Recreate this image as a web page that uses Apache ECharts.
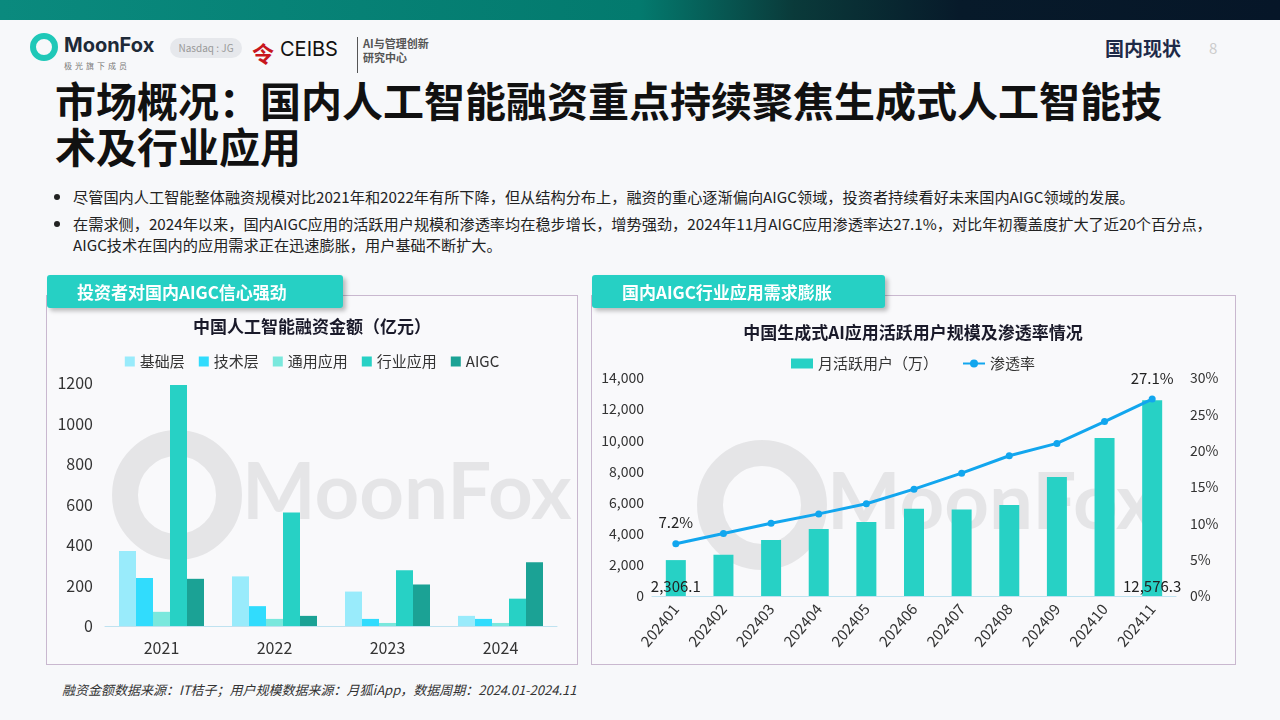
<!DOCTYPE html>
<html><head><meta charset="utf-8">
<script src="https://cdn.jsdelivr.net/npm/echarts@6/dist/echarts.min.js"></script>
<style>
body{margin:0;width:1280px;height:720px;background:#f7f8fa;font-family:"Noto Sans CJK SC","Noto Sans",sans-serif;position:relative;overflow:hidden;color:#1a1a1a}
.abs{position:absolute}
.tab{background:#26d0c4;color:#fff;font-weight:bold;font-size:17px;line-height:33px;height:33px;box-shadow:3px 3px 4px rgba(0,0,0,.25);border-radius:3px 3px 3px 3px}
.panel{border:1px solid #c9b8cf;background:#f9f9fb}
li{margin-bottom:6px}
</style></head><body>
<div class="abs" style="left:0;top:0;width:1280px;height:20px;background:linear-gradient(90deg,#0a8a7e 0%,#037a6e 50%,#0a3a3a 62%,#071a2a 75%,#061628 100%)"></div>
<div class="abs" style="left:30px;top:33px;width:28px;height:28px;border-radius:50%;border:6px solid #1fc8b8;box-sizing:border-box"></div>
<div class="abs" style="left:64px;top:33px;font-weight:bold;font-size:20px;color:#1e2a38;font-family:Inter,sans-serif">MoonFox</div>
<div class="abs" style="left:64px;top:60px;font-size:8px;color:#777;letter-spacing:3px">极光旗下成员</div>
<div class="abs" style="left:170px;top:38px;width:72px;height:20px;border-radius:10px;background:#e6e8ec;color:#999;font-size:10px;text-align:center;line-height:20px">Nasdaq : JG</div>
<div class="abs" style="left:252px;top:36px;font-size:22px;color:#c8161d;font-weight:bold">令</div>
<div class="abs" style="left:280px;top:37px;font-size:20px;color:#111;font-family:Inter">CEIBS</div>
<div class="abs" style="left:357px;top:37px;height:36px;border-left:1px solid #555"></div>
<div class="abs" style="left:363px;top:36px;font-size:11px;color:#555;font-weight:bold;line-height:14px">AI与管理创新<br>研究中心</div>
<div class="abs" style="left:1105px;top:34px;font-size:19px;font-weight:bold;color:#1e2a48">国内现状</div>
<div class="abs" style="left:1209px;top:37px;font-size:15px;color:#ccc">8</div>
<div class="abs" style="left:55px;top:76px;font-size:41px;font-weight:bold;line-height:46px;width:1125px;color:#111">市场概况：国内人工智能融资重点持续聚焦生成式人工智能技术及行业应用</div>
<ul class="abs" style="left:55px;top:186px;margin:0;padding-left:18px;font-size:15.2px;line-height:21px;width:1165px;color:#222">
<li>尽管国内人工智能整体融资规模对比2021年和2022年有所下降，但从结构分布上，融资的重心逐渐偏向AIGC领域，投资者持续看好未来国内AIGC领域的发展。</li>
<li>在需求侧，2024年以来，国内AIGC应用的活跃用户规模和渗透率均在稳步增长，增势强劲，2024年11月AIGC应用渗透率达27.1%，对比年初覆盖度扩大了近20个百分点，AIGC技术在国内的应用需求正在迅速膨胀，用户基础不断扩大。</li>
</ul>
<div class="abs panel" style="left:46px;top:295px;width:530px;height:368px"></div>
<div class="abs panel" style="left:591px;top:295px;width:643px;height:368px"></div>
<div id="c1" class="abs" style="left:47px;top:305px;width:530px;height:358px"></div>
<div id="c2" class="abs" style="left:592px;top:305px;width:642px;height:358px"></div>
<div class="abs tab" style="left:47px;top:275px;width:296px;padding-left:30px;box-sizing:border-box">投资者对国内AIGC信心强劲</div>
<div class="abs tab" style="left:592px;top:275px;width:293px;padding-left:30px;box-sizing:border-box">国内AIGC行业应用需求膨胀</div>
<div class="abs" style="left:62px;top:680px;font-size:13px;font-style:italic;color:#333">融资金额数据来源：IT桔子；用户规模数据来源：月狐iApp，数据周期：2024.01-2024.11</div>
<script>
const years = ['2021', '2022', '2023', '2024'];
const jichu = [370, 245, 170, 50];
const jishu = [237, 98, 35, 35];
const tongyong = [70, 35, 15, 15];
const hangye = [1190, 560, 275, 135];
const aigc = [233, 50, 205, 315];
const months = ['202401','202402','202403','202404','202405','202406','202407','202408','202409','202410','202411'];
const mau = [2306.1, 2650, 3600, 4300, 4750, 5600, 5550, 5850, 7650, 10150, 12576.3];
const rate = [7.2, 8.6, 10.0, 11.3, 12.7, 14.7, 16.9, 19.3, 21.0, 24.0, 27.1];

const font = 'Noto Sans CJK SC';
const wm = function (l, t) {
  return [{type: 'text', left: l, top: t, z: -1, style: {text: 'MoonFox', fontSize: 78, fontWeight: 'bold', fill: 'rgba(0,0,0,0.08)', fontFamily: 'Lato'}},
          {type: 'circle', left: l - 130, top: t - 25, z: -1, shape: {r: 52}, style: {fill: 'none', stroke: 'rgba(0,0,0,0.08)', lineWidth: 26}}];
};

const c1 = echarts.init(document.getElementById('c1'));
const names1 = ['基础层', '技术层', '通用应用', '行业应用', 'AIGC'];
const colors1 = ['#99ebfb', '#31dcfd', '#7ae8dd', '#27d1c5', '#1ba295'];
const vals1 = [jichu, jishu, tongyong, hangye, aigc];
c1.setOption({
  textStyle: {fontFamily: font},
  graphic: wm(195, 150),
  title: {text: '中国人工智能融资金额（亿元）', left: 'center', top: 8, textStyle: {fontSize: 17, fontWeight: 'bold', color: '#1a1a2a'}},
  legend: {top: 44, left: 'center', itemWidth: 10, itemHeight: 10, itemGap: 14, icon: 'rect', textStyle: {fontSize: 15, color: '#333'}},
  grid: {left: 58, right: 20, top: 78, bottom: 37},
  xAxis: {type: 'category', data: years, axisTick: {show: false}, axisLine: {lineStyle: {color: '#bfe2f0'}}, axisLabel: {fontSize: 16, color: '#333', margin: 14}},
  yAxis: {type: 'value', min: 0, max: 1200, interval: 200, splitLine: {show: false}, axisLabel: {fontSize: 16, color: '#333', margin: 12, formatter: v => String(v)}},
  series: names1.map((n, i) => ({name: n, type: 'bar', data: vals1[i], barWidth: 17, barGap: '0%', itemStyle: {color: colors1[i]}}))
});

const c2 = echarts.init(document.getElementById('c2'));
c2.setOption({
  textStyle: {fontFamily: font},
  graphic: wm(235, 160),
  title: {text: '中国生成式AI应用活跃用户规模及渗透率情况', left: 'center', top: 14, textStyle: {fontSize: 17, fontWeight: 'bold', color: '#1a1a2a'}},
  legend: {top: 46, left: 'center', itemGap: 24, textStyle: {fontSize: 15, color: '#333'},
    data: [{name: '月活跃用户（万）', icon: 'rect', itemStyle: {color: '#27d1c5'}}, {name: '渗透率'}], itemWidth: 22, itemHeight: 10},
  grid: {left: 60, right: 58, top: 73, bottom: 67},
  xAxis: {type: 'category', data: months, axisTick: {show: false}, axisLine: {lineStyle: {color: '#bfe2f0'}}, axisLabel: {fontSize: 15, color: '#333', rotate: 50, margin: 10}},
  yAxis: [
    {type: 'value', min: 0, max: 14000, interval: 2000, splitLine: {show: false}, axisLabel: {fontSize: 14, color: '#333', formatter: v => v.toLocaleString('en-US')}},
    {type: 'value', min: 0, max: 30, interval: 5, splitLine: {show: false}, axisLabel: {fontSize: 14, color: '#333', formatter: '{value}%', margin: 14}}
  ],
  series: [
    {name: '月活跃用户（万）', type: 'bar', data: mau, barWidth: 20, itemStyle: {color: '#27d1c5'},
      label: {show: true, position: 'insideBottom', fontSize: 15, color: '#222', distance: 2,
        formatter: p => (p.dataIndex === 0 || p.dataIndex === mau.length - 1) ? p.value.toLocaleString('en-US', {minimumFractionDigits: 1}) : ''}},
    {name: '渗透率', type: 'line', yAxisIndex: 1, data: rate, symbol: 'circle', symbolSize: 7, lineStyle: {color: '#12a6ee', width: 3}, itemStyle: {color: '#12a6ee'},
      label: {show: true, position: 'top', fontSize: 15, color: '#222', distance: 10,
        formatter: p => (p.dataIndex === 0 || p.dataIndex === rate.length - 1) ? p.value.toFixed(1) + '%' : ''}}
  ]
});
</script>
</body></html>
